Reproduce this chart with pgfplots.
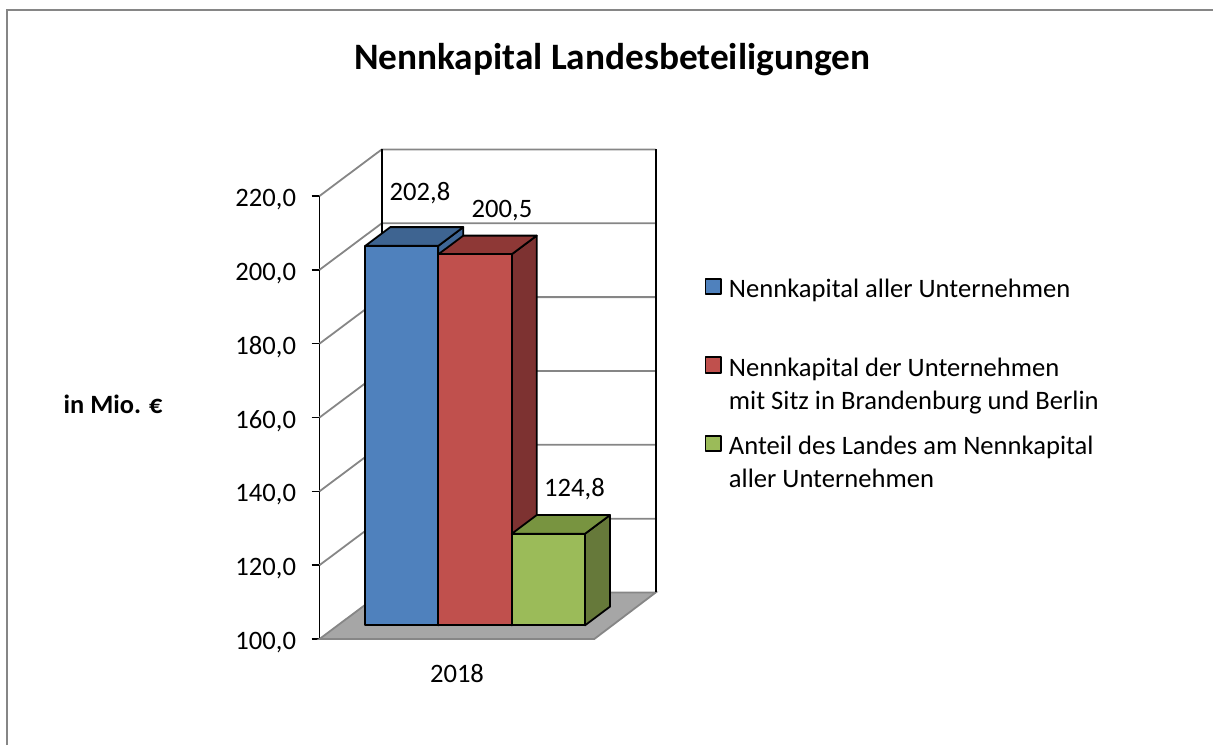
\documentclass[border=0pt]{standalone}
\usepackage{pgfplots}
\pgfplotsset{compat=1.18}
\usepackage{fontspec}
\setmainfont{Carlito}
\definecolor{gridc}{HTML}{868686}
\definecolor{floorc}{HTML}{A6A6A6}
\definecolor{bluef}{HTML}{4F81BD}\definecolor{bluet}{HTML}{3E6491}\definecolor{blues}{HTML}{3F6797}
\definecolor{redf}{HTML}{C0504D}\definecolor{redt}{HTML}{8E3836}\definecolor{reds}{HTML}{7D3231}
\definecolor{greenf}{HTML}{9BBB59}\definecolor{greent}{HTML}{789440}\definecolor{greens}{HTML}{66793A}
% bar: x left, x right, value, colours front / top / side
\newcommand{\cube}[6]{%
  \pgfmathsetmacro{\yb}{103.7}%
  \pgfmathsetmacro{\yt}{#3+3.7}%
  \pgfmathsetmacro{\ybb}{\yb+5.07}%
  \pgfmathsetmacro{\ytb}{\yt+5.07}%
  \pgfmathsetmacro{\xr}{#2+25}%
  \pgfmathsetmacro{\xl}{#1+25}%
  \addplot[forget plot,draw=black,line width=1.8pt,line join=round,fill=#6] coordinates {(#2,\yb) (\xr,\ybb) (\xr,\ytb) (#2,\yt)} --cycle;
  \addplot[forget plot,draw=black,line width=1.8pt,line join=round,fill=#5] coordinates {(#1,\yt) (\xl,\ytb) (\xr,\ytb) (#2,\yt)} --cycle;
  \addplot[draw=black,line width=1.8pt,line join=round,fill=#4] coordinates {(#1,\yb) (#2,\yb) (#2,\yt) (#1,\yt)} --cycle;
}
\newcommand{\gridv}[1]{%
  \pgfmathsetmacro{\vb}{#1+12.6}%
  \addplot[forget plot,gridc,line width=1.8pt] coordinates {(319.5,#1) (381.7,\vb) (655.7,\vb)};
}
\begin{document}
\begin{tikzpicture}[x=1pt,y=1pt]
\path[use as bounding box] (0,0) rectangle (1213,745);
\draw[gridc,line width=2pt] (7,0) -- (7,735);
\draw[gridc,line width=1.4pt] (6,735) -- (1213,735);
\begin{axis}[
  at={(319.5pt,106pt)},anchor=south west,
  scale only axis,width=274.8pt,height=443pt,
  xmin=319.5,xmax=594.3,ymin=100,ymax=220,
  clip=false,
  axis y line*=left,axis x line*=bottom,
  y axis line style={black,line width=1.6pt},
  x axis line style={gridc,line width=1.8pt},
  xtick={457},xticklabels={2018},
  x tick style={draw=none},
  ytick={100,120,140,160,180,200,220},
  y tick style={black,line width=1.6pt},
  tick align=outside,major tick length=8pt,
  /pgf/number format/assume math mode=true,
  /pgf/number format/.cd,fixed,fixed zerofill,precision=1,use comma,1000 sep={},
  /tikz/.cd,
  tick label style={font=\fontsize{26.6}{30}\selectfont},
  x tick label style={yshift=-14pt},
  y tick label style={xshift=-12pt,yshift=-3.5pt},
  legend cell align=left,
  legend image code/.code={\draw[#1,line width=1.8pt] (0pt,-5pt) rectangle (15.5pt,10.5pt);},
  legend style={draw=none,fill=none,at={(1.39,0.82)},anchor=north west,
    font=\fontsize{26.6}{33.3}\selectfont,row sep=57pt,
    /tikz/every odd column/.append style={column sep=7pt},
    nodes={inner sep=0pt,outer sep=0pt}},
]
\addplot[forget plot,draw=gridc,line width=1.8pt,fill=floorc] coordinates {(319.5,100) (594.3,100) (655.7,112.6) (381.7,112.6)} --cycle;
\gridv{120}\gridv{140}\gridv{160}\gridv{180}\gridv{200}\gridv{220}
\addplot[forget plot,black,line width=1.6pt] coordinates {(381.7,112.6) (381.7,232.6)};
\addplot[forget plot,black,line width=1.6pt] coordinates {(655.7,112.6) (655.7,232.6)};
\cube{365.3}{438.3}{202.8}{bluef}{bluet}{blues}
\addlegendentry{\parbox[t]{380pt}{Nennkapital aller Unternehmen\\\strut}}
\cube{438.3}{511.7}{200.5}{redf}{redt}{reds}
\addlegendentry{\parbox[t]{380pt}{Nennkapital der Unternehmen\\mit Sitz in Brandenburg und Berlin}}
\cube{511.7}{585}{124.8}{greenf}{greent}{greens}
\addlegendentry{\parbox[t]{380pt}{Anteil des Landes am Nennkapital\\aller Unternehmen}}
\node[anchor=base,font=\fontsize{26.6}{30}\selectfont] at (axis cs:420,218.7) {202,8};
\node[anchor=base,font=\fontsize{26.6}{30}\selectfont] at (axis cs:502,214.2) {200,5};
\node[anchor=base,font=\fontsize{26.6}{30}\selectfont] at (axis cs:574.5,138.6) {124,8};
\end{axis}
\node[anchor=base,font=\fontsize{37.3}{40}\selectfont\bfseries] at (612,675) {Nennkapital Landesbeteiligungen};
\node[anchor=base,font=\fontsize{26.4}{30}\selectfont\bfseries] at (113,331) {in Mio. €};
\end{tikzpicture}
\end{document}
